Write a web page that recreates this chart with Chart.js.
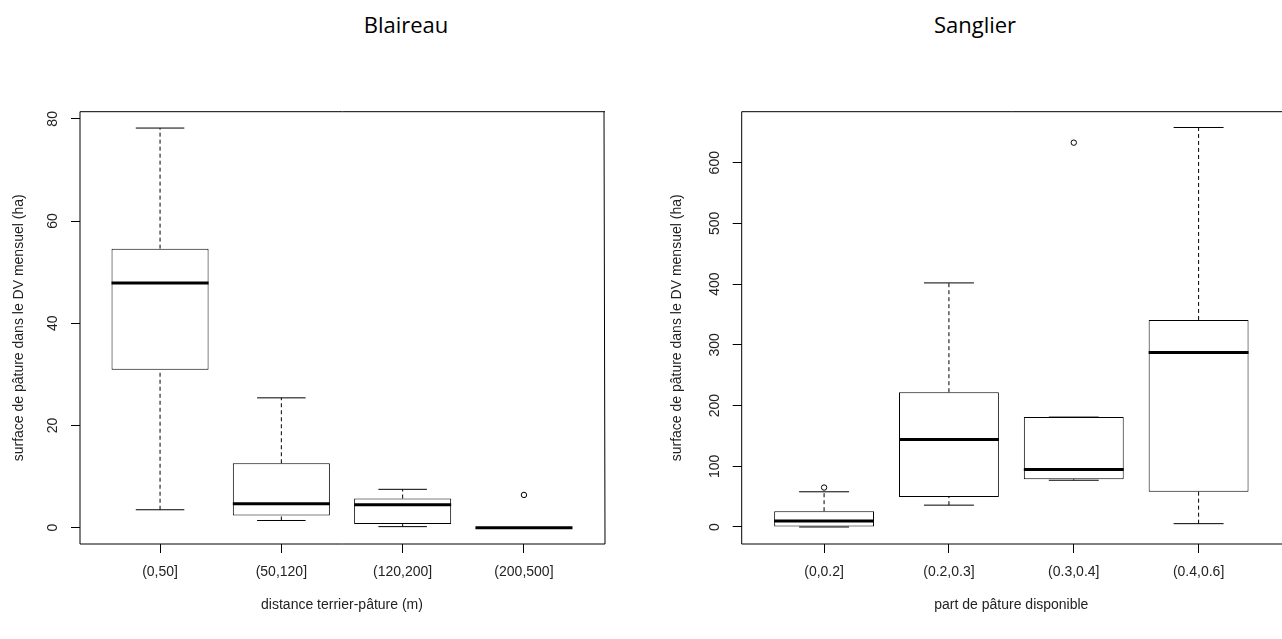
<!DOCTYPE html>
<html lang="fr">
<head>
<meta charset="utf-8">
<title>Surface de pâture - Blaireau / Sanglier</title>
<script src="https://cdn.jsdelivr.net/npm/chart.js@4.4.1/dist/chart.umd.min.js"></script>
<style>
    body { margin: 0; background: #fff; width: 1282px; height: 639px; overflow: hidden; position: relative; }
    .titre { position: absolute; top: 13px; font-family: "Open Sans", sans-serif; font-size: 22px; line-height: 22px; color: #000; transform: translateX(-50%); white-space: nowrap; }
    canvas { position: absolute; top: 0; }
    #chartBlaireau { left: 0; }
    #chartSanglier { left: 640px; }
</style>
</head>
<body>
<div class="titre" style="left:406px">Blaireau</div>
<div class="titre" style="left:975px">Sanglier</div>
<canvas id="chartBlaireau" width="640" height="639"></canvas>
<canvas id="chartSanglier" width="646" height="639"></canvas>

<script>
// 1. Blaireau : distance terrier-pâture
const catBlaireau = ["(0,50]", "(50,120]", "(120,200]", "(200,500]"];
const minBlaireau = [3.5, 1.4, 0.2, 0];
const q1Blaireau = [30.9, 2.4, 0.7, 0];
const medBlaireau = [47.9, 4.7, 4.5, 0];
const q3Blaireau = [54.6, 12.6, 5.7, 0];
const maxBlaireau = [78.2, 25.4, 7.5, 0];
const outBlaireau = [[], [], [], [6.4]];
const ticksBlaireau = [0, 20, 40, 60, 80];

// 2. Sanglier : part de pâture disponible
const catSanglier = ["(0,0.2]", "(0.2,0.3]", "(0.3,0.4]", "(0.4,0.6]"];
const minSanglier = [0, 36, 77, 5.5];
const q1Sanglier = [0, 49.5, 78.6, 58];
const medSanglier = [10, 144, 94.5, 287.5];
const q3Sanglier = [26, 222, 181, 341];
const maxSanglier = [58, 402, 181, 658];
const outSanglier = [[65], [], [633], []];
const ticksSanglier = [0, 100, 200, 300, 400, 500, 600];

const DEMI_BOITE = 0.4;   // boxwex 0.8
const DEMI_TRAIT = 0.2;   // staplewex 0.5
const POLICE = '"Liberation Sans", Arial, sans-serif';

Chart.defaults.font.family = POLICE;
Chart.defaults.font.size = 14;

// cadre autour de la zone du graphique (comme box() dans R)
// le côté droit du 2e graphique sort de l'image dans l'original
const cadre = {
    id: 'cadre',
    afterDatasetsDraw(chart, args, opts) {
        const { ctx, chartArea: a } = chart;
        ctx.save();
        ctx.strokeStyle = '#000';
        ctx.lineWidth = 1;
        ctx.beginPath();
        ctx.moveTo(a.right + 1, a.top);
        ctx.lineTo(a.left, a.top);
        ctx.lineTo(a.left, a.bottom);
        ctx.lineTo(a.right + 1, a.bottom);
        if (opts.droite !== false) ctx.lineTo(a.right, a.top);
        ctx.stroke();
        ctx.restore();
    }
};

function construireDatasets(min, q1, med, q3, max, out) {
    const boites = q1.map((v, i) => ({ x: i + 1, y: [v, q3[i]] }));
    const moustaches = [];
    const traits = [];
    const medianes = [];
    const extremes = [];

    q1.forEach((v, i) => {
        const x = i + 1;
        moustaches.push({ x, y: q3[i] }, { x, y: max[i] }, { x, y: null });
        moustaches.push({ x, y: min[i] }, { x, y: v }, { x, y: null });
        traits.push({ x: x - DEMI_TRAIT, y: max[i] }, { x: x + DEMI_TRAIT, y: max[i] }, { x, y: null });
        traits.push({ x: x - DEMI_TRAIT, y: min[i] }, { x: x + DEMI_TRAIT, y: min[i] }, { x, y: null });
        medianes.push({ x: x - DEMI_BOITE, y: med[i] }, { x: x + DEMI_BOITE, y: med[i] }, { x, y: null });
        out[i].forEach(o => extremes.push({ x, y: o }));
    });

    return [
        {
            type: 'line', data: moustaches, order: 3,
            borderColor: '#000', borderWidth: 1, borderDash: [4, 3],
            pointRadius: 0, spanGaps: false
        },
        {
            type: 'line', data: traits, order: 3,
            borderColor: '#000', borderWidth: 1,
            pointRadius: 0, spanGaps: false
        },
        {
            type: 'bar', data: boites, order: 2,
            backgroundColor: '#fff', borderColor: '#000', borderWidth: 1,
            borderSkipped: false, categoryPercentage: 1, barPercentage: DEMI_BOITE * 2
        },
        {
            type: 'line', data: medianes, order: 1,
            borderColor: '#000', borderWidth: 3,
            pointRadius: 0, spanGaps: false
        },
        {
            type: 'line', data: extremes, order: 0, showLine: false,
            pointRadius: 2.7, pointBorderWidth: 1,
            pointBorderColor: '#000', pointBackgroundColor: 'rgba(0,0,0,0)'
        }
    ];
}

function dessinerBoxplot(idCanvas, cfg) {
    const ctx = document.getElementById(idCanvas);
    if (!ctx) return;

    new Chart(ctx, {
        type: 'bar',
        data: {
            datasets: construireDatasets(cfg.min, cfg.q1, cfg.med, cfg.q3, cfg.max, cfg.out)
        },
        options: {
            responsive: false,
            animation: false,
            layout: { padding: { top: 111.7, right: cfg.margeDroite, bottom: 0, left: 0 } },
            plugins: {
                legend: { display: false },
                tooltip: { enabled: false },
                cadre: { droite: cfg.cadreDroite }
            },
            scales: {
                x: {
                    type: 'linear',
                    offset: false,
                    min: 0.34,
                    max: 4.66,
                    afterBuildTicks: s => { s.ticks = cfg.categories.map((_, i) => ({ value: i + 1 })); },
                    afterFit: s => { s.height = 95; },
                    ticks: {
                        autoSkip: false, maxRotation: 0, padding: 11, color: '#222',
                        callback: v => cfg.categories[v - 1]
                    },
                    grid: { offset: false, drawOnChartArea: false, drawTicks: true, tickLength: 9, tickColor: '#000' },
                    border: { display: false },
                    title: {
                        display: true, text: cfg.titreX, color: '#222',
                        font: { size: 14 }, padding: { top: 0, bottom: 25.6 }
                    }
                },
                y: {
                    type: 'linear',
                    min: cfg.yMin,
                    max: cfg.yMax,
                    afterBuildTicks: s => { s.ticks = cfg.ticks.map(v => ({ value: v })); },
                    afterFit: s => { s.width = cfg.largeurY; },
                    ticks: {
                        autoSkip: false, minRotation: 90, maxRotation: 90, crossAlign: 'center',
                        padding: cfg.padTicksY, color: '#222'
                    },
                    grid: { drawOnChartArea: false, drawTicks: true, tickLength: 9, tickColor: '#000' },
                    border: { display: false },
                    title: {
                        display: true, text: 'surface de pâture dans le DV mensuel (ha)', color: '#222',
                        font: { size: 14 }, padding: { top: cfg.padTitreY, bottom: 0 }
                    }
                }
            }
        },
        plugins: [cadre]
    });
}

dessinerBoxplot('chartBlaireau', {
    categories: catBlaireau, min: minBlaireau, q1: q1Blaireau, med: medBlaireau,
    q3: q3Blaireau, max: maxBlaireau, out: outBlaireau, ticks: ticksBlaireau,
    yMin: -3.2, yMax: 81.4, titreX: 'distance terrier-pâture (m)',
    largeurY: 80, margeDroite: 36, padTicksY: 9.7, padTitreY: 10.3, cadreDroite: true
});

dessinerBoxplot('chartSanglier', {
    categories: catSanglier, min: minSanglier, q1: q1Sanglier, med: medSanglier,
    q3: q3Sanglier, max: maxSanglier, out: outSanglier, ticks: ticksSanglier,
    yMin: -28, yMax: 684, titreX: 'part de pâture disponible',
    largeurY: 101.7, margeDroite: 3, padTicksY: 6, padTitreY: 29.1, cadreDroite: false
});
</script>
</body>
</html>
